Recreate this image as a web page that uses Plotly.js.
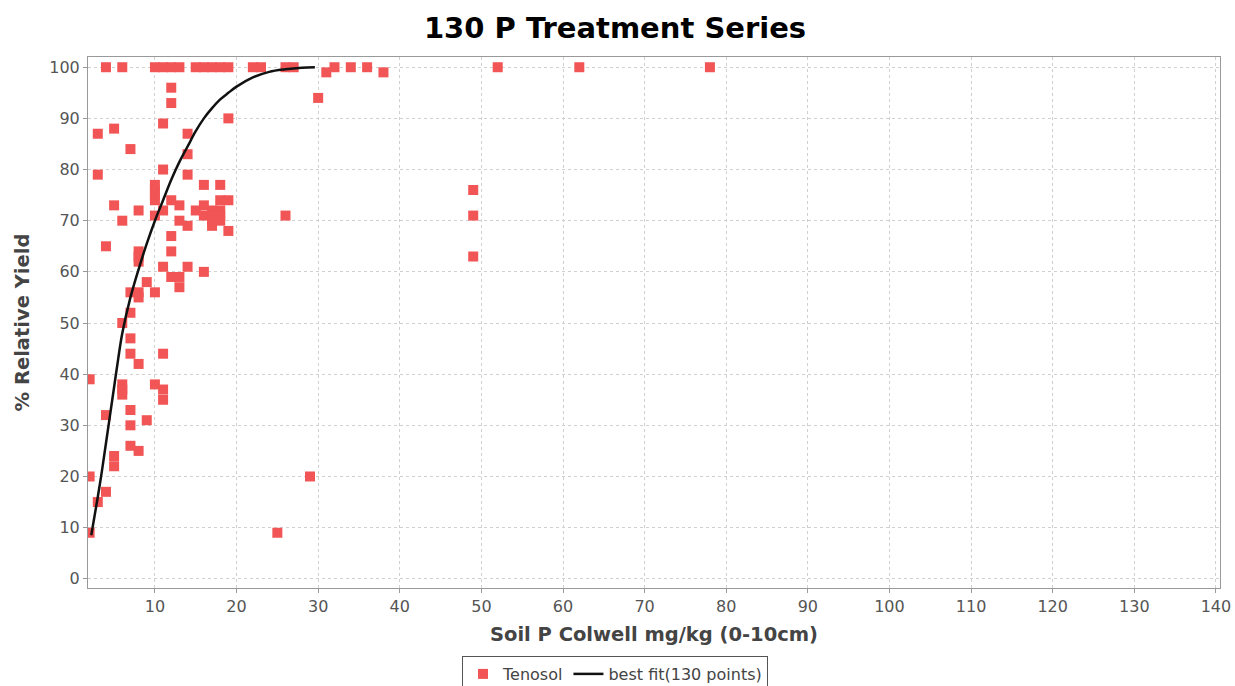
<!DOCTYPE html>
<html>
<head>
<meta charset="utf-8">
<script src="https://cdn.plot.ly/plotly-3.0.1.min.js"></script>
<style>html,body{margin:0;padding:0;background:#fff;}#chart{width:1235px;height:686px;}</style>
</head>
<body>
<div id="chart"></div>
<script>
// Tenosol observations (Soil P Colwell mg/kg, % relative yield)
const soilP = [
  4,6,10,11,12,13,15,16,17,18,19,22,23,26,27,32,34,36,52,62,78,
  31,38,30,
  12,12,11,19,3,5,14,7,14,3,11,14,10,10,10,10,16,18,12,13,5,8,6,10,11,
  19,18,15,16,16,17,17,17,18,18,18,19,13,14,17,12,4,12,8,8,8,11,14,16,
  12,13,13,9,8,7,10,8,7,6,7,7,11,8,2,6,6,6,10,11,11,7,4,7,9,7,8,5,5,
  2,4,3,2,29,25,26,49,49,49
];
const relYield = [
  100,100,100,100,100,100,100,100,100,100,100,100,100,100,100,100,100,100,100,100,100,
  99,99,94,
  96,93,89,90,87,88,87,84,83,79,80,79,77,76,75,74,77,77,74,73,73,72,70,71,72,
  74,74,72,73,71,72,71,70,72,71,70,68,70,69,69,67,65,64,64,63,62,61,61,60,
  59,59,57,58,56,56,56,55,52,50,47,44,44,42,39,38,37,36,38,37,35,33,32,30,31,26,25,24,22,
  20,17,15,9,20,9,71,76,71,63
];
// best fit curve
const fitX = [2.2, 3, 3.5, 4, 4.5, 5, 5.5, 6, 7, 8, 9, 10, 11, 12, 13, 14, 15, 16, 17, 18, 19, 20, 22, 24, 26, 28, 29.6];
const fitY = [8.5, 16, 21, 26.5, 32, 37.5, 43, 48, 55, 60.5, 65.5, 70, 74, 78, 81.5, 84.5, 87.5, 90, 92, 93.7, 95, 96.2, 98, 99.1, 99.6, 99.9, 100];

const xTicks = [10,20,30,40,50,60,70,80,90,100,110,120,130,140];
const yTicks = [0,10,20,30,40,50,60,70,80,90,100];

const traces = [
  {x: soilP, y: relYield, type: 'scatter', mode: 'markers', name: 'Tenosol',
   marker: {symbol: 'square', size: 10, color: '#f25555'}},
  {x: fitX, y: fitY, type: 'scatter', mode: 'lines', name: 'best fit(130 points)',
   line: {color: '#111', width: 2.5, shape: 'spline'}}
];

const axisFont = {family: 'DejaVu Sans, sans-serif', size: 16, color: '#555'};
const layout = {
  width: 1235, height: 686,
  margin: {l: 88, r: 15, t: 57, b: 98},
  paper_bgcolor: '#fff', plot_bgcolor: '#fff',
  title: {text: '<b>130 P Treatment Series</b>', x: 0.498, xref: 'container', xanchor: 'center',
          y: 1 - 28/686, yanchor: 'middle',
          font: {family: 'DejaVu Sans, sans-serif', size: 29, color: '#000'}},
  xaxis: {range: [1.8, 140.5], tickvals: xTicks, ticktext: xTicks.map(String),
          showgrid: true, gridcolor: '#d0d0d0', griddash: 'dot', gridwidth: 1,
          zeroline: false, showline: true, mirror: true, linecolor: '#999', linewidth: 1,
          ticks: 'outside', ticklen: 4, tickcolor: '#999', tickfont: axisFont,
          title: {text: '<b>Soil P Colwell mg/kg (0-10cm)</b>', standoff: 12,
                  font: {family: 'DejaVu Sans, sans-serif', size: 19.5, color: '#444'}}},
  yaxis: {range: [-1.8, 102], tickvals: yTicks, ticktext: yTicks.map(String),
          showgrid: true, gridcolor: '#d0d0d0', griddash: 'dot', gridwidth: 1,
          zeroline: false, showline: true, mirror: true, linecolor: '#999', linewidth: 1,
          ticks: 'outside', ticklen: 4, tickcolor: '#999', tickfont: axisFont,
          title: {text: '<b>% Relative Yield</b>', standoff: 14,
                  font: {family: 'DejaVu Sans, sans-serif', size: 19.5, color: '#444'}}},
  showlegend: true,
  legend: {orientation: 'h', xref: 'container', yref: 'container', x: 0.498, xanchor: 'center',
           y: 1 - 656/686, yanchor: 'top', bordercolor: '#555', borderwidth: 1,
           bgcolor: '#fff', font: {family: 'DejaVu Sans, sans-serif', size: 16, color: '#444'},
           itemwidth: 30, tracegroupgap: 0}
};

Plotly.newPlot('chart', traces, layout, {displayModeBar: false, staticPlot: true});
</script>
</body>
</html>
